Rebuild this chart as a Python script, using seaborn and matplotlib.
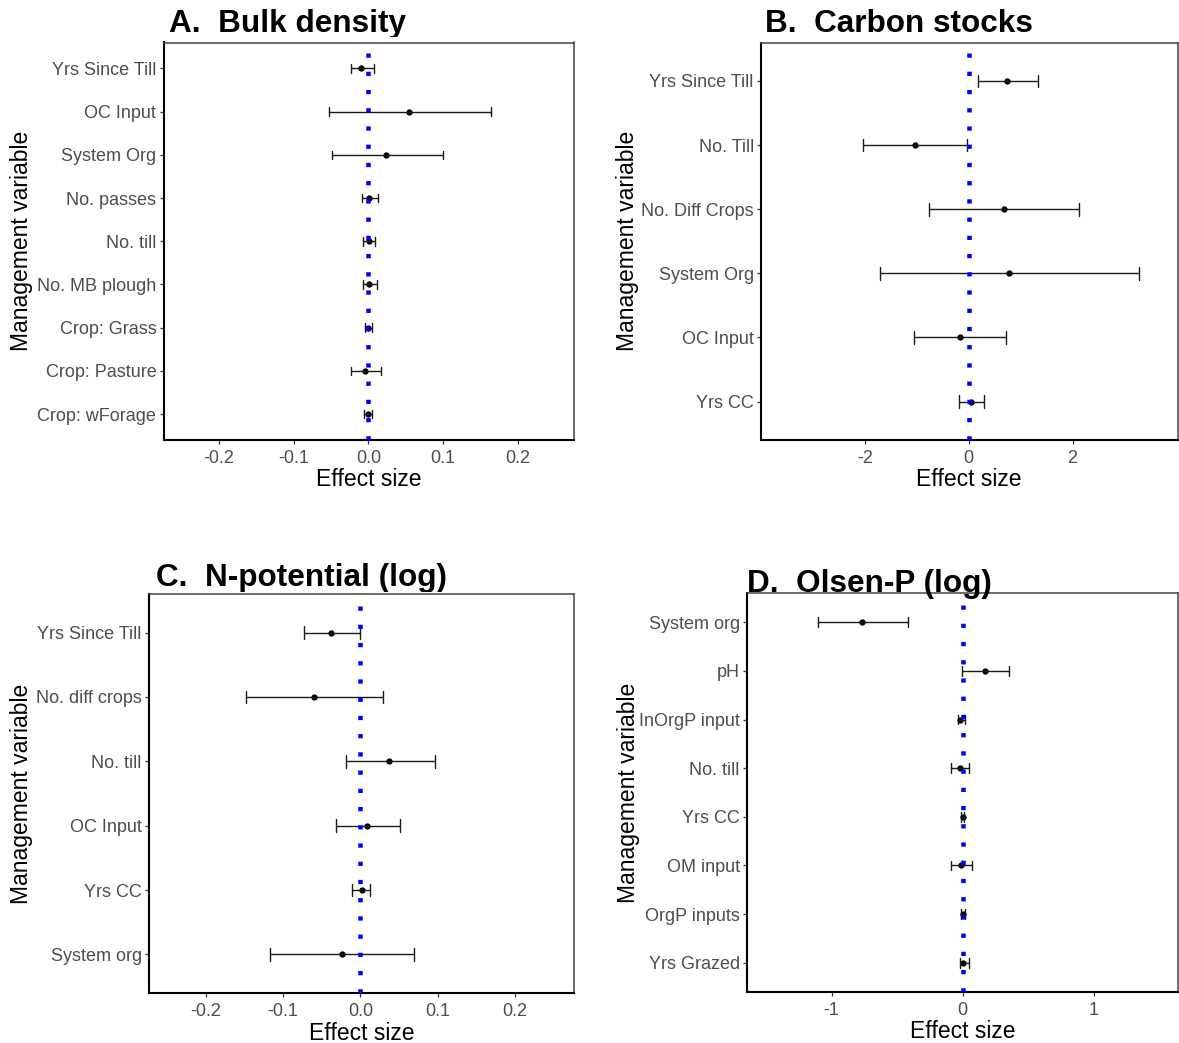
import numpy as np
import pandas as pd
import matplotlib
matplotlib.use("Agg")
import matplotlib.pyplot as plt
from matplotlib.transforms import Bbox, TransformedBbox
import seaborn as sns

# ---------------- data ----------------
A_vars = ["Yrs Since Till", "OC Input", "System Org", "No. passes", "No. till",
          "No. MB plough", "Crop: Grass", "Crop: Pasture", "Crop: wForage"]
A_est = [-0.010, 0.054, 0.024, 0.001, 0.001, 0.0015, 0.000, -0.005, -0.0005]
A_lo = [-0.023, -0.053, -0.049, -0.009, -0.0075, -0.0075, -0.004, -0.0235, -0.0055]
A_hi = [0.007, 0.164, 0.0995, 0.0125, 0.0095, 0.011, 0.0055, 0.0165, 0.005]

B_vars = ["Yrs Since Till", "No. Till", "No. Diff Crops", "System Org", "OC Input", "Yrs CC"]
B_est = [0.73, -1.04, 0.67, 0.78, -0.17, 0.05]
B_lo = [0.17, -2.04, -0.76, -1.70, -1.05, -0.18]
B_hi = [1.33, -0.04, 2.12, 3.28, 0.72, 0.30]

C_vars = ["Yrs Since Till", "No. diff crops", "No. till", "OC Input", "Yrs CC", "System org"]
C_est = [-0.038, -0.060, 0.037, 0.009, 0.0015, -0.024]
C_lo = [-0.073, -0.148, -0.019, -0.032, -0.011, -0.117]
C_hi = [-0.001, 0.029, 0.097, 0.051, 0.013, 0.069]

D_vars = ["System org", "pH", "InOrgP input", "No. till", "Yrs CC", "OM input",
          "OrgP inputs", "Yrs Grazed"]
D_est = [-0.771, 0.169, -0.017, -0.020, 0.000, -0.014, 0.003, 0.006]
D_lo = [-1.103, -0.003, -0.037, -0.089, -0.011, -0.089, -0.011, -0.020]
D_hi = [-0.418, 0.352, 0.017, 0.046, 0.011, 0.072, 0.017, 0.046]

titles = ["A.  Bulk density", "B.  Carbon stocks", "C.  N-potential (log)", "D.  Olsen-P (log)"]
xticks_list = [[-0.2, -0.1, 0.0, 0.1, 0.2], [-2, 0, 2], [-0.2, -0.1, 0.0, 0.1, 0.2], [-1, 0, 1]]
xticklabels_list = [["-0.2", "-0.1", "0.0", "0.1", "0.2"], ["-2", "0", "2"],
                    ["-0.2", "-0.1", "0.0", "0.1", "0.2"], ["-1", "0", "1"]]
xlims = [(-0.274, 0.275), (-4.0, 4.02), (-0.273, 0.276), (-1.645, 1.643)]

# ---------------- layout (pixels) ----------------
W, H = 1179, 1043
boxes = [  # left, right, top, bottom
    (163.5, 574, 42.5, 440),
    (761, 1177.5, 42.5, 440),
    (149, 574, 594, 993),
    (747, 1178, 593, 992),
]
title_pos = [(169, 32, 36.5), (765, 32, 37), (156, 586, 591.7), (747, 592, None)]
ylabel_x = [22, 627, 22, 629]

sns.set_theme(style="white")
plt.rcParams["font.family"] = ["Liberation Sans", "DejaVu Sans"]

fig = plt.figure(figsize=(W / 100, H / 100), dpi=100)

panels = [
    (A_vars, A_est, A_lo, A_hi),
    (B_vars, B_est, B_lo, B_hi),
    (C_vars, C_est, C_lo, C_hi),
    (D_vars, D_est, D_lo, D_hi),
]

for i, (vars_, est, lo, hi) in enumerate(panels):
    L, R, T, B = boxes[i]
    ax = fig.add_axes([L / W, 1 - B / H, (R - L) / W, (B - T) / H])
    rows = []
    for v, e, l, h in zip(vars_, est, lo, hi):
        rows += [(v, l), (v, e), (v, h)]
    df = pd.DataFrame(rows, columns=["var", "value"])
    sns.pointplot(data=df, x="value", y="var", order=vars_, estimator="median",
                  errorbar=("pi", 100), capsize=0.2, color="black",
                  linestyle="none", marker="o", markersize=2.5,
                  err_kws={"linewidth": 1.0, "color": "#1a1a1a"}, ax=ax)
    ax.axvline(0, color="blue", lw=3.24, linestyle=(0, (0.95, 3.1)),
               dash_capstyle="butt", zorder=10)
    n = len(vars_)
    ax.set_ylim(n - 1 + 0.6, -0.6)
    ax.set_xlim(*xlims[i])
    ax.set_xticks(xticks_list[i])
    ax.set_xticklabels(xticklabels_list[i])
    ax.tick_params(axis="both", which="major", length=3.2, width=0.9, color="#333333",
                   labelsize=13, labelcolor="#4D4D4D", pad=2)
    ax.tick_params(axis="x", pad=4)
    ax.tick_params(left=True, bottom=True)
    for side in ["left", "bottom"]:
        ax.spines[side].set_color("black")
        ax.spines[side].set_linewidth(1.5)
    for side in ["top", "right"]:
        ax.spines[side].set_color("#444444")
        ax.spines[side].set_linewidth(1.1)
    ax.set_xlabel("Effect size", fontsize=16.5, color="black")
    ax.xaxis.label.set_va("center")
    ax.xaxis.set_label_coords(0.5, -40 / (B - T))
    ax.set_ylabel("Management variable", fontsize=16.5, color="black")
    ax.yaxis.label.set_va("center")
    ax.yaxis.set_label_coords((ylabel_x[i] - L) / (R - L), 0.5)
    tx, tb, clip = title_pos[i]
    t = fig.text(tx / W, 1 - tb / H, titles[i], fontsize=22.7, fontweight="bold",
                 ha="left", va="baseline", color="black")
    if clip is not None:
        cb = TransformedBbox(Bbox([[0, 1 - clip / H], [1, 1]]), fig.transFigure)
        t.set_clip_box(cb)
        t.set_clip_on(True)

fig.savefig("out.png", dpi=100)
